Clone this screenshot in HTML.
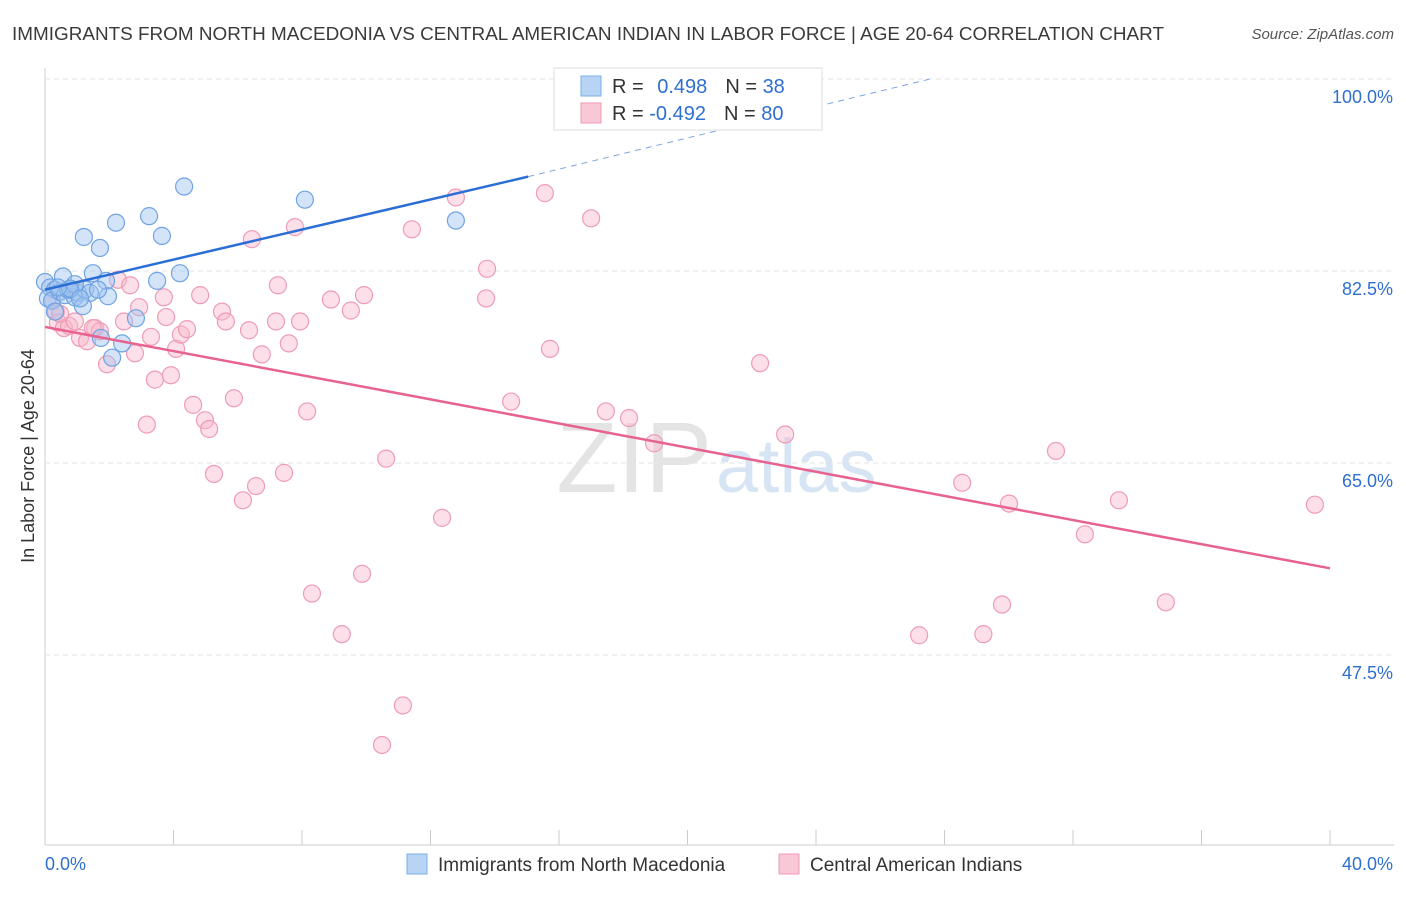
<!DOCTYPE html>
<html><head><meta charset="utf-8"><style>
body{margin:0;background:#fff;font-family:"Liberation Sans",sans-serif}
svg text{font-family:"Liberation Sans",sans-serif}
</style></head><body>
<svg id="c" width="1406" height="892">
<text x="12" y="40" font-size="18" textLength="1152" lengthAdjust="spacingAndGlyphs" fill="#3a3a3a">IMMIGRANTS FROM NORTH MACEDONIA VS CENTRAL AMERICAN INDIAN IN LABOR FORCE | AGE 20-64 CORRELATION CHART</text>
<text x="1394" y="39" font-size="15" font-style="italic" fill="#555" text-anchor="end">Source: ZipAtlas.com</text>
<text x="712" y="492" font-size="100" font-family="Liberation Serif" fill="#e4e4e4" text-anchor="end">ZIP</text>
<text x="716" y="492" font-size="76" fill="#d6e4f4">atlas</text>
<text transform="translate(34,456) rotate(-90)" font-size="18" fill="#333" text-anchor="middle">In Labor Force | Age 20-64</text>
<g id="grid"></g><g id="pts"></g><g id="lines"></g>
<g>
<rect x="554" y="68" width="268" height="62" fill="#fff" stroke="#ddd"/>
<rect x="581" y="76" width="20" height="20" fill="#b8d4f5" stroke="#7aaee8"/>
<rect x="581" y="103" width="20" height="20" fill="#f9c8d7" stroke="#ef9ab5"/>
<text x="612" y="93" font-size="20" fill="#333">R = <tspan fill="#2f6fd0" dx="8">0.498</tspan><tspan fill="#333" dx="18">N = </tspan><tspan fill="#2f6fd0">38</tspan></text>
<text x="612" y="120" font-size="20" fill="#333">R = <tspan fill="#2f6fd0">-0.492</tspan><tspan fill="#333" dx="18">N = </tspan><tspan fill="#2f6fd0">80</tspan></text>
</g>
<g>
<rect x="407" y="854" width="20" height="20" fill="#b8d4f5" stroke="#7aaee8"/>
<text x="438" y="871" font-size="19" fill="#333">Immigrants from North Macedonia</text>
<rect x="779" y="854" width="20" height="20" fill="#f9c8d7" stroke="#ef9ab5"/>
<text x="810" y="871" font-size="19" fill="#333">Central American Indians</text>
</g>
</svg>
<script>
const yTicks=[100,82.5,65,47.5];
const xTickLabels=["0.0%","40.0%"];
const blueX=[0,0.16,0.31,0.09,0.22,0.47,0.62,0.78,0.93,1.03,1.25,1.40,0.31,0.56,0.72,0.93,1.18,1.49,1.71,1.90,1.96,2.21,1.21,3.24,3.64,4.33,8.09,4.20,3.49,2.83,2.40,2.09,1.74,12.79,0.78,1.09,1.65,0.40];
const blueY=[81.5,81.0,80.8,80.0,79.8,80.6,80.3,80.8,80.1,80.5,80.8,80.5,78.8,82.0,80.8,81.3,79.3,82.3,84.6,81.6,80.2,86.9,85.6,87.5,85.7,90.2,89.0,82.3,81.6,78.2,75.9,74.6,76.4,87.1,80.9,80.0,80.8,81.0];
const pinkX=[0.34,0.40,0.59,0.75,1.09,1.31,1.56,1.71,1.93,2.27,2.46,2.65,2.80,2.93,3.17,3.30,3.42,3.70,3.77,3.92,4.08,4.23,4.42,4.61,4.83,4.98,5.11,5.26,5.51,5.63,5.88,6.16,6.35,6.44,6.57,6.75,7.19,7.25,7.44,7.59,7.78,7.94,8.16,8.31,8.90,9.24,9.52,9.87,9.93,10.62,11.14,10.49,11.42,12.36,12.79,13.76,13.73,14.51,15.56,15.72,17.00,17.46,18.18,18.96,22.26,23.04,27.21,28.55,29.21,29.79,30.01,31.47,32.37,33.43,34.89,39.53,0.22,0.47,0.93,1.49];
const pinkY=[78.8,77.8,77.3,77.5,76.4,76.1,77.3,77.0,74.0,81.7,77.9,81.2,75.0,79.2,68.5,76.5,72.6,80.1,78.3,73.0,75.4,76.7,77.2,70.3,80.3,68.9,68.1,64.0,78.8,77.9,70.9,61.6,77.1,85.4,62.9,74.9,77.9,81.2,64.1,75.9,86.5,77.9,69.7,53.1,79.9,49.4,78.9,54.9,80.3,65.4,42.9,39.3,86.3,60.0,89.2,82.7,80.0,70.6,89.6,75.4,87.3,69.7,69.1,66.8,74.1,67.6,49.3,63.2,49.4,52.1,61.3,66.1,58.5,61.6,52.3,61.2,79.8,78.6,77.9,77.3];
const svg=document.getElementById('c');const NS="http://www.w3.org/2000/svg";
const X=v=>45+v*1285/40, Y=v=>79+(100-v)*192/17.5;
function mk(t,a,p){const e=document.createElementNS(NS,t);for(const k in a)e.setAttribute(k,a[k]);p.appendChild(e);return e;}
const grid=document.getElementById('grid');
mk('line',{x1:45,y1:68,x2:45,y2:845,stroke:'#ccc'},grid);
mk('line',{x1:45,y1:845,x2:1394,y2:845,stroke:'#ccc'},grid);
for(let i=1;i<=10;i++){mk('line',{x1:X(i*4),y1:830,x2:X(i*4),y2:845,stroke:'#ccc'},grid);}
yTicks.forEach(v=>{mk('line',{x1:45,y1:Y(v),x2:1394,y2:Y(v),stroke:'#e3e3e3','stroke-dasharray':'5,4'},grid);
const t=mk('text',{x:1393,y:Y(v)+24,'font-size':18,fill:'#2f6fd0','text-anchor':'end'},grid);t.textContent=v.toFixed(1)+'%';

});
xTickLabels.forEach((s,i)=>{const t=mk('text',{x:i?1393:45,y:870,'font-size':18,fill:'#2f6fd0','text-anchor':i?'end':'start'},grid);t.textContent=s;

});
const pts=document.getElementById('pts');
pinkX.forEach((x,i)=>{const c=mk('circle',{cx:X(x),cy:Y(pinkY[i]),r:8.5,fill:'rgba(249,185,205,0.45)',stroke:'#ee9cb6','stroke-width':1.2},pts);

});
blueX.forEach((x,i)=>{const c=mk('circle',{cx:X(x),cy:Y(blueY[i]),r:8.5,fill:'rgba(160,196,240,0.45)',stroke:'#6fa3e3','stroke-width':1.2},pts);

});
const L=document.getElementById('lines');
let l=mk('line',{x1:X(0),y1:Y(80.8),x2:X(15.04),y2:Y(91.1),stroke:'#2b6fd6','stroke-width':2.5},L);

l=mk('line',{x1:X(15.04),y1:Y(91.1),x2:X(27.55),y2:Y(100),stroke:'#7aa6e0','stroke-width':1,'stroke-dasharray':'6,5'},L);

l=mk('line',{x1:X(0),y1:Y(77.4),x2:X(40),y2:Y(55.4),stroke:'#e8628f','stroke-width':2.5},L);

</script>
</body></html>
